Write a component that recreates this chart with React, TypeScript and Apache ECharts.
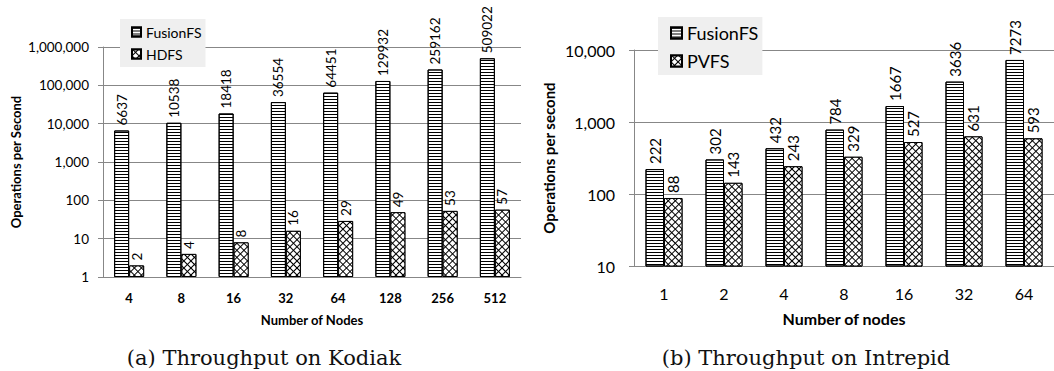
import React, { useEffect, useRef } from 'react';
import * as echarts from 'echarts';

const kodiakNodes = ['4', '8', '16', '32', '64', '128', '256', '512'];
const kodiakFusionFS = [6637, 10538, 18418, 36554, 64451, 129932, 259162, 509022];
const kodiakHDFS = [2, 4, 8, 16, 29, 49, 53, 57];

const intrepidNodes = ['1', '2', '4', '8', '16', '32', '64'];
const intrepidFusionFS = [222, 302, 432, 784, 1667, 3636, 7273];
const intrepidPVFS = [88, 143, 243, 329, 527, 631, 593];

const captions = ['(a) Throughput on Kodiak', '(b) Throughput on Intrepid'];

const FONT = 'Lato, "Open Sans", sans-serif';
const GRAY = '#878787';

const stripes = {
  symbol: 'rect',
  symbolSize: 1,
  color: '#000',
  dashArrayX: [1, 0],
  dashArrayY: [1, 2],
  rotation: 0,
};

const cross = {
  symbol: 'rect',
  symbolSize: 1,
  color: '#fff',
  dashArrayX: [3.6, 1],
  dashArrayY: [3.6, 1],
  rotation: Math.PI / 4,
};

const fmt = (v: number) => Math.round(v).toLocaleString('en-US');

function App() {
  const ref = useRef<HTMLDivElement>(null);
  useEffect(() => {
    if (!ref.current) return;
    const chart = echarts.init(ref.current, undefined, { renderer: 'svg' });
    const barItem = (fill: string, decal: any) => ({
      color: fill,
      borderColor: '#000',
      borderWidth: 1,
      decal,
    });
    const label = (size: number) => ({
      show: true,
      position: 'top',
      rotate: 90,
      distance: 5,
      align: 'left',
      verticalAlign: 'middle',
      fontSize: size,
      fontFamily: FONT,
      color: '#000',
    });
    const captionStyle = {
      fontSize: 21,
      fontFamily: '"DejaVu Serif", "Liberation Serif", serif',
      fill: '#111',
      align: 'center',
      verticalAlign: 'middle',
    };
    chart.setOption({
      animation: false,
      backgroundColor: '#fff',
      grid: [
        { left: 103, top: 47, width: 418, height: 230 },
        { left: 634, top: 50, width: 427, height: 216 },
      ],
      legend: [
        {
          data: ['FusionFS', 'HDFS'],
          orient: 'vertical',
          left: 120,
          top: 19,
          padding: [6, 4, 6, 11],
          itemGap: 8,
          itemWidth: 9,
          itemHeight: 9,
          icon: 'rect',
          backgroundColor: '#efefef',
          selectedMode: false,
          textStyle: { fontSize: 14, lineHeight: 14, fontFamily: FONT, color: '#000' },
        },
        {
          data: ['FusionFS', 'PVFS'],
          orient: 'vertical',
          left: 658,
          top: 17,
          padding: [7, 4, 5, 12],
          itemGap: 10,
          itemWidth: 11,
          itemHeight: 11,
          icon: 'rect',
          backgroundColor: '#efefef',
          selectedMode: false,
          textStyle: { fontSize: 18, lineHeight: 16, fontFamily: FONT, color: '#000' },
        },
      ],
      xAxis: [
        {
          type: 'category',
          gridIndex: 0,
          data: kodiakNodes,
          axisLine: { lineStyle: { color: GRAY } },
          axisTick: { length: 5, lineStyle: { color: GRAY } },
          axisLabel: { margin: 14, fontSize: 13, fontWeight: 'bold', color: '#000', fontFamily: FONT },
          name: 'Number of Nodes',
          nameLocation: 'middle',
          nameGap: 36,
          nameTextStyle: { fontSize: 13, fontWeight: 'bold', color: '#000', fontFamily: FONT },
        },
        {
          type: 'category',
          gridIndex: 1,
          data: intrepidNodes,
          axisLine: { lineStyle: { color: GRAY } },
          axisTick: { length: 5, lineStyle: { color: GRAY } },
          axisLabel: { margin: 19, fontSize: 16, color: '#000', fontFamily: FONT },
          name: 'Number of nodes',
          nameLocation: 'middle',
          nameGap: 44,
          nameTextStyle: { fontSize: 16, fontWeight: 'bold', color: '#000', fontFamily: FONT },
        },
      ],
      yAxis: [
        {
          type: 'log',
          logBase: 10,
          gridIndex: 0,
          min: 1,
          max: 1000000,
          axisLine: { show: true, lineStyle: { color: GRAY } },
          axisTick: { show: true, length: 5, lineStyle: { color: GRAY } },
          splitLine: { show: true, lineStyle: { color: GRAY } },
          axisLabel: { margin: 14, fontSize: 13.5, color: '#000', fontFamily: FONT, formatter: fmt },
          name: 'Operations per Second',
          nameLocation: 'middle',
          nameRotate: 90,
          nameGap: 81,
          nameTextStyle: { fontSize: 13, fontWeight: 'bold', color: '#000', fontFamily: FONT },
        },
        {
          type: 'log',
          logBase: 10,
          gridIndex: 1,
          min: 10,
          max: 10000,
          axisLine: { show: true, lineStyle: { color: GRAY } },
          axisTick: { show: true, length: 5, lineStyle: { color: GRAY } },
          splitLine: { show: true, lineStyle: { color: GRAY } },
          axisLabel: { margin: 19, fontSize: 16, color: '#000', fontFamily: FONT, formatter: fmt },
          name: 'Operations per second',
          nameLocation: 'middle',
          nameRotate: 90,
          nameGap: 78,
          nameTextStyle: { fontSize: 15, fontWeight: 'bold', color: '#000', fontFamily: FONT },
        },
      ],
      series: [
        {
          name: 'FusionFS',
          type: 'bar',
          xAxisIndex: 0,
          yAxisIndex: 0,
          data: kodiakFusionFS,
          barWidth: 15,
          barGap: '0%',
          clip: true,
          itemStyle: barItem('#fff', stripes),
          label: label(13.5),
        },
        {
          name: 'HDFS',
          type: 'bar',
          xAxisIndex: 0,
          yAxisIndex: 0,
          data: kodiakHDFS,
          barWidth: 15,
          barGap: '0%',
          clip: true,
          itemStyle: barItem('#000', cross),
          label: label(13.5),
        },
        {
          name: 'FusionFS',
          type: 'bar',
          xAxisIndex: 1,
          yAxisIndex: 1,
          data: intrepidFusionFS,
          barWidth: 18.5,
          barGap: '0%',
          clip: true,
          itemStyle: barItem('#fff', stripes),
          label: label(15),
        },
        {
          name: 'PVFS',
          type: 'bar',
          xAxisIndex: 1,
          yAxisIndex: 1,
          data: intrepidPVFS,
          barWidth: 18.5,
          barGap: '0%',
          clip: true,
          itemStyle: barItem('#000', cross),
          label: label(15),
        },
      ],
      graphic: [
        { type: 'text', x: 264, y: 358, style: { ...captionStyle, text: captions[0] } },
        { type: 'text', x: 806, y: 358, style: { ...captionStyle, text: captions[1] } },
      ],
    });
    return () => chart.dispose();
  }, []);
  return (
    <div
      ref={ref}
      style={{ position: 'absolute', left: 0, top: 0, width: 1054, height: 371, overflow: 'hidden' }}
    />
  );
}

export default App;
